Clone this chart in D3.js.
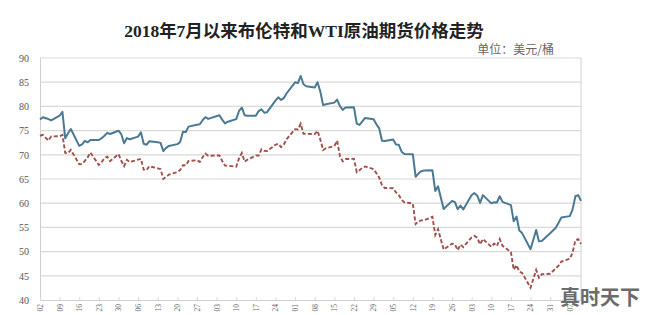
<!DOCTYPE html>
<html><head><meta charset="utf-8">
<script src="https://cdn.jsdelivr.net/npm/d3@7"></script>
<style>body{margin:0;background:#fff}svg{display:block}</style>
</head><body><svg id="c" width="645" height="315"></svg>
<script>
const days = [
"2018-07-02","2018-07-03","2018-07-05","2018-07-06","2018-07-09","2018-07-10","2018-07-11","2018-07-12","2018-07-13","2018-07-16","2018-07-17","2018-07-18","2018-07-19","2018-07-20","2018-07-23","2018-07-24","2018-07-25","2018-07-26","2018-07-27","2018-07-30","2018-07-31",
"2018-08-01","2018-08-02","2018-08-03","2018-08-06","2018-08-07","2018-08-08","2018-08-09","2018-08-10","2018-08-13","2018-08-14","2018-08-15","2018-08-16","2018-08-17","2018-08-20","2018-08-21","2018-08-22","2018-08-23","2018-08-24","2018-08-27","2018-08-28","2018-08-29","2018-08-30","2018-08-31",
"2018-09-04","2018-09-05","2018-09-06","2018-09-07","2018-09-10","2018-09-11","2018-09-12","2018-09-13","2018-09-14","2018-09-17","2018-09-18","2018-09-19","2018-09-20","2018-09-21","2018-09-24","2018-09-25","2018-09-26","2018-09-27","2018-09-28",
"2018-10-01","2018-10-02","2018-10-03","2018-10-04","2018-10-05","2018-10-08","2018-10-09","2018-10-10","2018-10-11","2018-10-12","2018-10-15","2018-10-16","2018-10-17","2018-10-18","2018-10-19","2018-10-22","2018-10-23","2018-10-24","2018-10-25","2018-10-26","2018-10-29","2018-10-30","2018-10-31",
"2018-11-01","2018-11-02","2018-11-05","2018-11-06","2018-11-07","2018-11-08","2018-11-09","2018-11-12","2018-11-13","2018-11-14","2018-11-15","2018-11-16","2018-11-19","2018-11-20","2018-11-21","2018-11-23","2018-11-26","2018-11-27","2018-11-28","2018-11-29","2018-11-30",
"2018-12-03","2018-12-04","2018-12-05","2018-12-06","2018-12-07","2018-12-10","2018-12-11","2018-12-12","2018-12-13","2018-12-14","2018-12-17","2018-12-18","2018-12-19","2018-12-20","2018-12-21","2018-12-24","2018-12-26","2018-12-27","2018-12-28","2018-12-31",
"2019-01-02","2019-01-03","2019-01-04","2019-01-07","2019-01-08","2019-01-09","2019-01-10","2019-01-11"];
const brent = [
77.30,77.76,77.39,77.11,78.07,78.86,73.40,74.45,75.33,71.84,72.16,72.90,72.58,73.07,73.06,73.44,73.93,74.54,74.29,74.97,74.25,
72.39,73.45,73.21,73.75,74.65,72.28,72.07,72.81,72.61,72.46,70.76,71.43,71.83,72.21,72.63,74.78,74.73,75.82,76.21,76.31,77.14,77.77,77.42,
78.17,77.27,76.50,76.83,77.37,79.06,79.74,78.18,78.09,78.05,79.03,79.40,78.70,78.80,81.20,81.87,81.34,81.72,82.72,
84.98,84.80,86.29,84.58,84.16,83.91,85.00,83.09,80.26,80.43,80.78,81.41,80.05,79.29,79.78,79.83,76.44,76.17,76.89,77.62,77.34,76.31,75.47,
72.89,72.83,73.17,72.13,72.07,70.65,70.18,70.12,65.47,66.12,66.62,66.76,66.79,62.53,63.48,58.80,60.48,60.21,58.76,59.51,58.71,
61.69,62.08,61.56,60.06,61.67,59.97,60.20,60.15,61.45,60.28,59.61,56.26,57.24,54.35,53.82,50.47,54.47,52.16,52.20,53.80,
54.91,55.95,57.06,57.33,58.72,61.44,61.68,60.48];
const wti = [
73.94,74.14,72.94,73.80,73.85,74.11,70.38,70.33,71.01,68.06,68.08,68.76,69.46,70.46,67.89,68.52,69.30,69.61,68.69,70.13,68.76,
67.66,68.96,68.49,69.01,69.17,66.94,66.81,67.63,67.20,67.04,65.01,65.46,65.91,66.43,66.84,67.86,67.83,68.72,68.87,68.53,69.51,70.25,69.80,
69.87,68.72,67.77,67.75,67.54,69.25,70.37,68.59,68.99,69.85,69.85,71.12,70.80,70.78,72.08,72.28,71.57,72.12,73.25,
75.30,75.23,76.41,74.33,74.34,74.29,74.96,73.17,70.97,71.34,71.78,72.92,69.75,68.65,69.12,69.17,66.43,66.82,67.33,67.59,67.04,66.18,65.31,
63.69,63.14,63.10,62.21,61.67,60.67,60.19,59.93,55.69,56.25,56.46,56.46,57.20,53.43,54.63,50.42,51.63,51.56,50.29,51.45,50.93,
52.95,53.25,52.89,51.49,52.61,51.00,51.65,51.15,52.58,51.20,49.88,46.24,47.20,45.88,45.59,42.53,46.22,44.61,45.33,45.41,
46.54,47.09,47.96,48.52,49.78,52.36,52.59,51.59];
const weekTicks = ["2018-07-02","2018-07-09","2018-07-16","2018-07-23","2018-07-30","2018-08-06","2018-08-13","2018-08-20","2018-08-27","2018-09-03","2018-09-10","2018-09-17","2018-09-24","2018-10-01","2018-10-08","2018-10-15","2018-10-22","2018-10-29","2018-11-05","2018-11-12","2018-11-19","2018-11-26","2018-12-03","2018-12-10","2018-12-17","2018-12-24","2018-12-31","2019-01-07"];
const weekLabels = ["02","09","16","23","30","06","13","20","27","03","10","17","24","01","08","15","22","29","05","12","19","26","03","10","17","24","31","07"];
const yTicks = [40,45,50,55,60,65,70,75,80,85,90];
const title = "2018年7月以来布伦特和WTI原油期货价格走势";
const unit = "单位：美元/桶";

const parse = d3.utcParse("%Y-%m-%d");
const dates = days.map(parse);
const svg = d3.select("#c");
const L = 40, R = 581, T = 58, B = 300;
const x = d3.scaleUtc().domain([dates[0], dates[dates.length-1]]).range([L, R]);
const y = d3.scaleLinear().domain([40, 90]).range([B, T]);

// grid
svg.append("g").selectAll("line").data(yTicks.slice(1)).join("line")
  .attr("x1", L).attr("x2", R).attr("y1", d => y(d)).attr("y2", d => y(d))
  .attr("stroke", "#d9d9d9").attr("stroke-width", 1.2);
svg.append("line").attr("x1", R).attr("x2", R).attr("y1", T).attr("y2", B)
  .attr("stroke", "#d9d9d9").attr("stroke-width", 1.2);

// y axis
const ya = svg.append("g").attr("transform", `translate(${L},0)`)
  .call(d3.axisLeft(y).tickValues(yTicks).tickSize(0).tickPadding(11));
ya.select(".domain").attr("stroke", "#cfcfcf");
ya.selectAll("text").attr("font-family", "Liberation Serif, serif").attr("font-size", 10).attr("fill", "#555");

// x axis
const xa = svg.append("g").attr("transform", `translate(0,${B})`)
  .call(d3.axisBottom(x).tickValues(weekTicks.map(parse)).tickSize(-3)
    .tickFormat((d, i) => weekLabels[i]));
xa.select(".domain").attr("stroke", "#cfcfcf");
xa.selectAll("line").attr("stroke", "#d9d9d9");
xa.selectAll("text").attr("font-family", "Liberation Serif, serif").attr("font-size", 7.5).attr("fill", "#666")
  .attr("transform", "rotate(-90)").attr("text-anchor", "end").attr("dx", "-3px").attr("dy", "0.32em").attr("y", 0).attr("x", -1);

// lines
const line = vals => d3.line().x((d, i) => x(dates[i])).y(d => y(d))(vals);
svg.append("path").attr("d", line(wti)).attr("fill", "none")
  .attr("stroke", "#a2504b").attr("stroke-width", 1.9).attr("stroke-dasharray", "4,2.2");
svg.append("path").attr("d", line(brent)).attr("fill", "none")
  .attr("stroke", "#4b7993").attr("stroke-width", 2).attr("stroke-linejoin", "round");

// texts
svg.append("text").attr("x", 304).attr("y", 37).attr("text-anchor", "middle")
  .attr("font-family", "Liberation Serif, Noto Sans CJK SC, serif").attr("font-weight", "bold")
  .attr("font-size", 17.5).attr("fill", "#222").text(title);
svg.append("text").attr("x", 554).attr("y", 54).attr("text-anchor", "end")
  .attr("font-family", "Noto Sans CJK SC, sans-serif").attr("font-size", 12)
  .attr("fill", "#666").text(unit);
svg.append("text").attr("x", 640).attr("y", 305).attr("text-anchor", "end")
  .attr("font-family", "Noto Sans CJK SC, sans-serif").attr("font-weight", "bold")
  .attr("font-size", 20).attr("fill", "#6b6b6b").text("真时天下");
</script></body></html>
